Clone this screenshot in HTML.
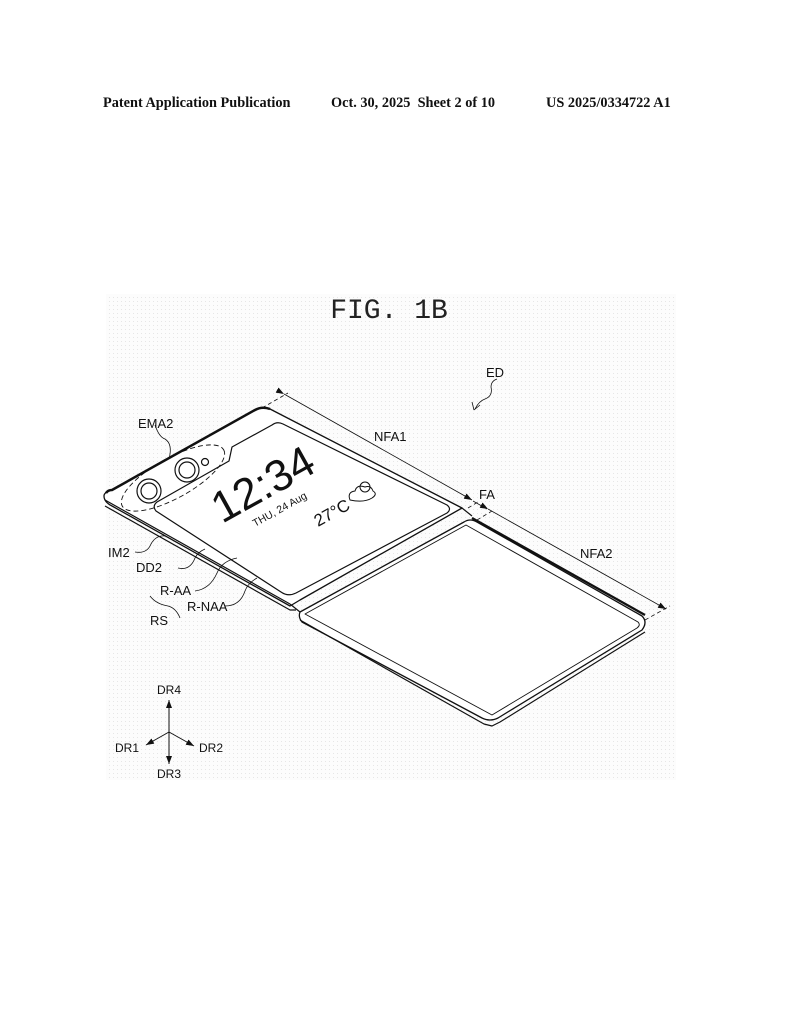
<!DOCTYPE html>
<html><head><meta charset="utf-8"><style>
html,body{margin:0;padding:0;background:#fff;}
body{width:794px;height:1024px;position:relative;overflow:hidden;}
.h{position:absolute;top:95px;font-family:"Liberation Serif",serif;font-weight:bold;font-size:14.3px;color:#111;white-space:nowrap;}
</style></head><body>
<div class="h" style="left:103px">Patent Application Publication</div>
<div class="h" style="left:331px">Oct. 30, 2025&nbsp;&nbsp;Sheet 2 of 10</div>
<div class="h" style="left:546px">US 2025/0334722 A1</div>
<svg width="794" height="1024" style="position:absolute;left:0;top:0" xmlns="http://www.w3.org/2000/svg">
<defs>
<pattern id="dots" width="4" height="4" patternUnits="userSpaceOnUse"><rect width="4" height="4" fill="#fcfcfc"/><rect x="1" y="1" width="1" height="1" fill="#e6e6e6"/></pattern>
<marker id="a" markerWidth="8" markerHeight="6" refX="8" refY="3" orient="auto" markerUnits="userSpaceOnUse"><path d="M0,0 L8,3 L0,6z" fill="#111"/></marker>
</defs>
<rect x="106" y="294" width="570" height="486" fill="url(#dots)"/>
<text x="389" y="318" font-family="Liberation Mono,monospace" font-size="28" text-anchor="middle" fill="#222">FIG. 1B</text>
<g fill="none" stroke="#111" stroke-width="1.2" stroke-linejoin="round">
<!-- panel 1 -->
<path d="M112,490 L255,410 Q262,406 270,409 L462,508 L300,600 L290,606 L112,506 Q104,502 104,496 Q104,492 112,490 Z" fill="#fff" stroke-width="1.3"/>
<path d="M105,500 L290,604 M105,506 L290,610 L296,610"/>
<path d="M106,493 Q108,490 112,490 L255,410 Q262,406 270,409" stroke-width="2.5"/>
<!-- screen 1 -->
<path d="M272,425 L232,447 L229,461 L157,502 Q152,506 156,511 L281,592 Q288,597 296,593 L447,513 Q452,509 447,505 L283,424 Q277,421 272,425 Z"/>
<ellipse cx="173" cy="478" rx="58" ry="20" transform="rotate(-29 173 478)" stroke-dasharray="5,3" stroke-width="0.9"/>
<circle cx="149" cy="491" r="12"/><circle cx="149" cy="491" r="8"/>
<circle cx="187" cy="470" r="12"/><circle cx="187" cy="470" r="8"/>
<circle cx="205" cy="462" r="3.5"/>
<!-- panel 2 -->
<path d="M300,612 L464,522 Q470,518 477,522 L642,616 Q648,622 642,630 L498,718 Q490,722 482,718 L302,622 Q298,617 300,612 Z" fill="#fff" stroke-width="1.3"/>
<path d="M305,614 L466,525 L638,622 Q641,625 637,628 L492,715 Z" stroke-width="0.9"/>
<path d="M300,620 L484,724 L492,726 L500,722 L645,632"/>
<path d="M472,518 L645,615" stroke-width="2.3"/>
<!-- hinge -->
<path d="M290,604 L300,612 M462,508 L472,516"/>
</g>
<!-- screen text -->
<g font-family="Liberation Sans,sans-serif" fill="#111">
<text transform="translate(222,524) rotate(-29)" font-size="44">12:34</text>
<text transform="translate(255,527) rotate(-29)" font-size="10.5">THU, 24 Aug</text>
<text transform="translate(318,527) rotate(-29)" font-size="17">27°C</text>
</g>
<g fill="none" stroke="#111" stroke-width="1">
<path d="M350,500 q-3,-8 5,-9 q2,-7 10,-4 q6,-2 8,4 q5,3 -1,7 q-8,5 -22,2z"/>
<circle cx="365" cy="487" r="5"/>
</g>
<!-- dimension lines -->
<g stroke="#111" stroke-width="0.8" fill="none">
<path d="M262,408 L288,393 M468,508 L478,502 M477,520 L492,511 M645,620 L670,606" stroke-dasharray="4,3"/>
<path d="M284,394 L472,500" marker-start="url(#a)" marker-end="url(#a)"/>
<path d="M473,501 L487,509" />
<path d="M488,509 L666,609" marker-start="url(#a)" marker-end="url(#a)"/>
<path d="M475,409 q4,-8 10,-10 q8,-3 6,-12 q0,-6 6,-8" />
<path d="M474,410 L472,402 M474,410 L480,405"/>
<!-- leaders -->
<path d="M155,425 q4,12 10,14 q8,5 4,20"/>
<path d="M135,552 q12,2 16,-8 q5,-9 14,-8"/>
<path d="M178,568 q12,3 17,-10 q3,-6 10,-9"/>
<path d="M195,591 q15,-2 22,-18 q5,-12 20,-15"/>
<path d="M225,606 q15,0 20,-15 q3,-8 12,-13"/>
<path d="M150,596 q6,8 18,10 q8,2 12,12"/>
</g>
<g font-family="Liberation Sans,sans-serif" font-size="13" fill="#111">
<text x="138" y="428">EMA2</text>
<text x="374" y="441">NFA1</text>
<text x="479" y="499">FA</text>
<text x="580" y="558">NFA2</text>
<text x="486" y="377">ED</text>
<text x="108" y="557">IM2</text>
<text x="136" y="572">DD2</text>
<text x="160" y="595">R-AA</text>
<text x="187" y="611">R-NAA</text>
<text x="150" y="625">RS</text>
</g>
<!-- axes -->
<g stroke="#111" stroke-width="1" fill="none">
<path d="M169,732 L169,700" marker-end="url(#a)"/>
<path d="M169,732 L169,764" marker-end="url(#a)"/>
<path d="M169,732 L146,745" marker-end="url(#a)"/>
<path d="M169,732 L194,746" marker-end="url(#a)"/>
</g>
<g font-family="Liberation Sans,sans-serif" font-size="12" fill="#111">
<text x="157" y="694">DR4</text>
<text x="115" y="752">DR1</text>
<text x="199" y="752">DR2</text>
<text x="157" y="778">DR3</text>
</g>
</svg>
</body></html>
